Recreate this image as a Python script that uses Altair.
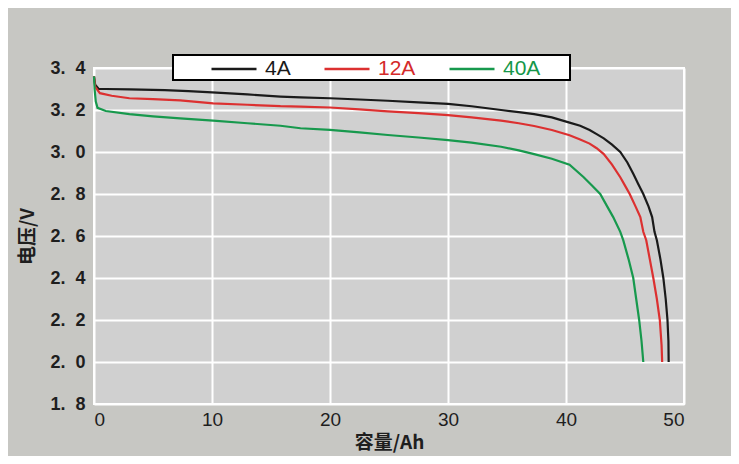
import altair as alt
import pandas as pd

# ---------------- data ----------------
series_names = ["4A", "12A", "40A"]
series_colors = ["#1a1a1a", "#dc3030", "#17994d"]

x_4a = [0, 0.1, 0.4, 1, 3, 6, 8, 10, 13, 15.8, 17.5, 20, 22.5, 24.9, 27.5, 30,
        32, 34.5, 36, 37.3, 38.8, 40.3, 41.2, 42.0, 42.6, 43.2, 43.9, 44.6, 45.2,
        45.7, 46.1, 46.55, 47.0, 47.3, 47.5, 47.7, 48.0, 48.25, 48.45, 48.6, 48.68, 48.7]
y_4a = [3.36, 3.32, 3.30, 3.30, 3.298, 3.295, 3.29, 3.284, 3.274, 3.264, 3.26, 3.256,
        3.25, 3.244, 3.236, 3.229, 3.218, 3.20, 3.19, 3.18, 3.165, 3.14, 3.125, 3.105,
        3.085, 3.065, 3.035, 3.0, 2.95, 2.896, 2.85, 2.8, 2.74, 2.69, 2.62, 2.58, 2.49,
        2.4, 2.3, 2.2, 2.1, 2.0]

x_12a = [0, 0.1, 0.5, 1.5, 3, 5, 7.3, 10.1, 13, 15.8, 17.5, 20, 22.5, 24.9, 27.5, 30,
         32, 34.5, 36, 37.3, 38.8, 40.3, 41.2, 42.0, 42.6, 43.2, 43.9, 44.6, 45.0, 45.4,
         45.9, 46.3, 46.55, 46.8, 47.1, 47.4, 47.7, 47.95, 48.1, 48.15]
y_12a = [3.36, 3.31, 3.28, 3.268, 3.256, 3.252, 3.246, 3.232, 3.225, 3.218, 3.216, 3.212,
         3.203, 3.193, 3.185, 3.176, 3.165, 3.149, 3.137, 3.124, 3.105, 3.08, 3.06, 3.04,
         3.018, 2.99, 2.94, 2.88, 2.84, 2.8, 2.74, 2.69, 2.62, 2.58, 2.49, 2.4, 2.3, 2.2,
         2.08, 2.0]

x_40a = [0, 0.05, 0.15, 0.3, 1, 3, 5, 7.3, 10.1, 13, 15.8, 17.5, 20, 22.5, 24.9, 27.5,
         30, 32, 34.5, 36, 37.3, 38.8, 40.3, 41.5, 42.2, 42.9, 43.5, 44.0, 44.6, 44.85,
         45.3, 45.7, 45.95, 46.2, 46.4, 46.55]
y_40a = [3.36, 3.30, 3.24, 3.21, 3.195, 3.18, 3.17, 3.16, 3.149, 3.137, 3.125, 3.113,
         3.105, 3.093, 3.081, 3.069, 3.057, 3.045, 3.025, 3.008, 2.99, 2.968, 2.94, 2.88,
         2.84, 2.8, 2.74, 2.69, 2.62, 2.58, 2.49, 2.4, 2.3, 2.2, 2.1, 2.0]

x_ticks = [0, 10, 20, 30, 40, 50]
y_ticks = [1.8, 2.0, 2.2, 2.4, 2.6, 2.8, 3.0, 3.2, 3.4]

x_title = "容量/Ah"
y_title = "电压/V"

# ---------------- table ----------------
rows = []
for name, xs, ys in [("4A", x_4a, y_4a), ("12A", x_12a, y_12a), ("40A", x_40a, y_40a)]:
    for i, (xv, yv) in enumerate(zip(xs, ys)):
        rows.append({"series": name, "cap": xv, "volt": yv, "i": i})
df = pd.DataFrame(rows)

label_color_expr = (
    f"datum.label == '{series_names[0]}' ? '{series_colors[0]}' : "
    f"datum.label == '{series_names[1]}' ? '#d42a2a' : '#16974a'"
)

lines = alt.Chart(df).mark_line(strokeWidth=2.2).encode(
    x=alt.X("cap:Q", scale=alt.Scale(domain=[0, 50], nice=False),
            axis=alt.Axis(values=x_ticks, title=x_title, format="d",
                          labelFont="Liberation Sans",
                          labelFontSize=19, labelPadding=6, titlePadding=4)),
    y=alt.Y("volt:Q", scale=alt.Scale(domain=[1.8, 3.4], nice=False, zero=False),
            axis=alt.Axis(values=y_ticks, title=y_title,
                          labelExpr="replace(format(datum.value, '.1f'), '.', '.\u00a0\u00a0')",
                          labelFont="Liberation Sans", labelFontWeight="bold",
                          labelFontSize=18, labelPadding=9, titlePadding=12)),
    color=alt.Color("series:N",
                    scale=alt.Scale(domain=series_names, range=series_colors),
                    legend=alt.Legend(
                        title=None, orient="none", legendX=116, legendY=-23,
                        direction="horizontal", symbolType="stroke",
                        symbolSize=2025, symbolStrokeWidth=2.5,
                        labelFontSize=21, labelFont="Liberation Sans",
                        labelOffset=7, columnPadding=28, padding=0,
                        labelColor=alt.ExprRef(label_color_expr),
                        zindex=2)),
    order=alt.Order("i:Q"),
)

box = alt.Chart(pd.DataFrame({"k": [0]})).mark_rect(
    fill="white", stroke="black", strokeWidth=2
).encode(
    x=alt.value(79), x2=alt.value(476), y=alt.value(-13), y2=alt.value(12)
)

chart = alt.layer(box, lines).properties(
    width=590, height=336,
    background="#c7c7c3",
    padding={"left": 86, "top": 60, "right": 47, "bottom": 52},
    autosize=alt.AutoSizeParams(type="none"),
).configure_view(
    fill="#d0d0d0", stroke="white", strokeWidth=2
).configure_axis(
    grid=True, gridColor="white", gridWidth=2, gridOpacity=1,
    domain=False, ticks=False,
    labelColor="#1e1e1e", titleColor="#1e1e1e",
    titleFont="Noto Sans CJK SC", titleFontSize=19, titleFontWeight="bold",
)

chart.save("out.html", embed_options={"renderer": "svg", "actions": False})
